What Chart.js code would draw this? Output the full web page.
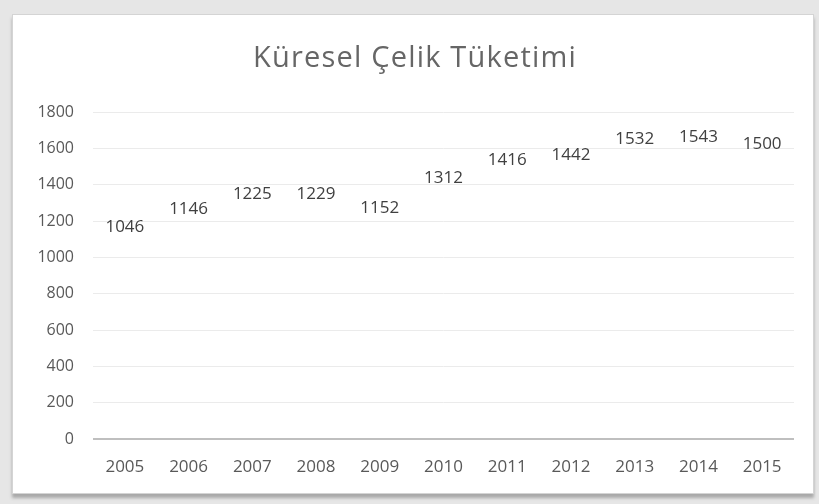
<!DOCTYPE html>
<html>
<head>
<meta charset="utf-8">
<script src="https://cdn.jsdelivr.net/npm/chart.js@4/dist/chart.umd.min.js"></script>
<style>
  html, body { margin: 0; padding: 0; background: #e6e6e6; }
  #card {
    position: absolute; left: 12px; top: 14px; width: 800px; height: 478px;
    background: #fff; border: 1px solid #d4d4d4;
    box-shadow: 0 4px 3px #a9a9a9;
  }
  #chart { display: block; }
</style>
</head>
<body>
<div id="card"><canvas id="chart" width="800" height="478"></canvas></div>
<script>
// ===== 資料 =====
const years = ["2005", "2006", "2007", "2008", "2009", "2010", "2011", "2012", "2013", "2014", "2015"];
const consumption = [1046, 1146, 1225, 1229, 1152, 1312, 1416, 1442, 1532, 1543, 1500];
const yTicks = [0, 200, 400, 600, 800, 1000, 1200, 1400, 1600, 1800];
const chartTitle = "Küresel Çelik Tüketimi";

const FONT = "'Open Sans', 'Liberation Sans', sans-serif";

// ===== 標題 & 數值標籤 =====
const titlePlugin = {
    id: "titleText",
    afterDraw(chart) {
        const ctx = chart.ctx;
        ctx.save();
        ctx.font = "29px " + FONT;
        ctx.letterSpacing = "1.2px";
        ctx.fillStyle = "#666666";
        ctx.textAlign = "center";
        ctx.textBaseline = "middle";
        ctx.fillText(chartTitle, chart.width / 2 + 2, 44);
        ctx.restore();
    }
};

const valueLabels = {
    id: "valueLabels",
    afterDatasetsDraw(chart) {
        const ctx = chart.ctx;
        const meta = chart.getDatasetMeta(0);
        ctx.save();
        ctx.font = "17px " + FONT;
        ctx.fillStyle = "#404040";
        ctx.textAlign = "center";
        ctx.textBaseline = "middle";
        meta.data.forEach((pt, i) => {
            ctx.fillText(String(consumption[i]), pt.x, pt.y - 22);
        });
        ctx.restore();
    }
};

new Chart(document.getElementById("chart"), {
    type: "line",
    data: {
        labels: years,
        datasets: [{
            data: consumption,
            borderColor: "rgba(0,0,0,0)",
            pointRadius: 0,
        }]
    },
    options: {
        responsive: false,
        animation: false,
        layout: { padding: { top: 97, right: 19, left: 0, bottom: 0 } },
        plugins: { legend: { display: false }, tooltip: { enabled: false }, title: { display: false } },
        scales: {
            x: {
                offset: true,
                grid: { display: false, drawTicks: false },
                border: { display: false },
                ticks: { color: "#595959", font: { family: FONT, size: 17 }, padding: 18 },
                afterFit(scale) { scale.height = 54; }
            },
            y: {
                min: 0,
                max: 1800,
                afterBuildTicks(scale) { scale.ticks = yTicks.map(v => ({ value: v })); },
                grid: {
                    drawTicks: false,
                    color: c => c.tick && c.tick.value === 0 ? "#bfbfbf" : "#ebebeb",
                    lineWidth: c => c.tick && c.tick.value === 0 ? 2 : 1,
                },
                border: { display: false },
                ticks: {
                    color: "#595959",
                    font: { family: FONT, size: 16 },
                    padding: 19,
                    callback: v => String(v)
                },
                afterFit(scale) { scale.width = 80; }
            }
        }
    },
    plugins: [titlePlugin, valueLabels]
});
</script>
</body>
</html>
